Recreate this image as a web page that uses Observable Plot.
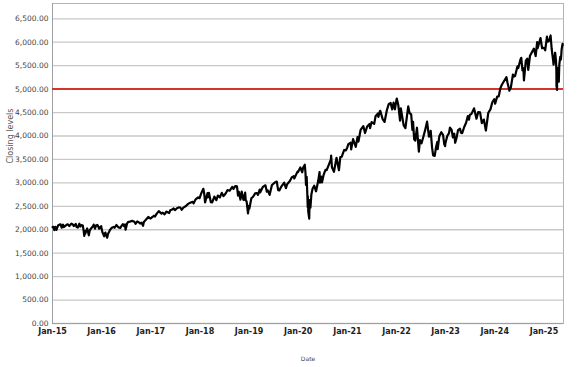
<!DOCTYPE html>
<html>
<head>
<meta charset="utf-8">
<script src="https://cdn.jsdelivr.net/npm/d3@7"></script>
<script src="https://cdn.jsdelivr.net/npm/@observablehq/plot@0.6"></script>
<style>
  html, body { margin: 0; padding: 0; background: #fff; }
  #chart svg { display: block; }
</style>
</head>
<body>
<div id="chart"></div>
<script>
// Approximate S&P 500 closing levels
const dates = [
  "2015-01-02","2015-01-08","2015-01-15","2015-01-22","2015-01-30","2015-02-06","2015-02-13","2015-02-25","2015-03-02","2015-03-10","2015-03-20","2015-03-26","2015-04-06","2015-04-15","2015-04-24","2015-05-06","2015-05-21","2015-06-01","2015-06-09","2015-06-23","2015-06-29","2015-07-08","2015-07-20","2015-07-27","2015-08-05","2015-08-14","2015-08-21","2015-08-25","2015-08-31","2015-09-01","2015-09-16","2015-09-28","2015-10-05","2015-10-16","2015-10-30","2015-11-03","2015-11-13","2015-11-20","2015-12-01","2015-12-08","2015-12-14","2015-12-29","2015-12-31",
  "2016-01-07","2016-01-11","2016-01-20","2016-01-22","2016-01-29","2016-02-05","2016-02-11","2016-02-19","2016-02-25","2016-03-04","2016-03-17","2016-03-31","2016-04-07","2016-04-20","2016-05-05","2016-05-19","2016-05-31","2016-06-08","2016-06-16","2016-06-23","2016-06-27","2016-07-08","2016-07-15","2016-07-29","2016-08-15","2016-08-31","2016-09-09","2016-09-22","2016-10-03","2016-10-13","2016-10-24","2016-11-04","2016-11-10","2016-11-25","2016-12-13","2016-12-30",
  "2017-01-13","2017-01-26","2017-01-31","2017-02-15","2017-03-01","2017-03-21","2017-03-31","2017-04-13","2017-04-26","2017-05-17","2017-05-25","2017-06-09","2017-06-19","2017-06-29","2017-07-14","2017-07-27","2017-08-08","2017-08-18","2017-08-31","2017-09-19","2017-10-05","2017-10-20","2017-11-08","2017-11-15","2017-11-30","2017-12-18","2017-12-29",
  "2018-01-12","2018-01-26","2018-02-02","2018-02-08","2018-02-26","2018-03-02","2018-03-09","2018-03-23","2018-04-02","2018-04-18","2018-05-03","2018-05-14","2018-05-29","2018-06-12","2018-06-25","2018-07-11","2018-07-25","2018-08-10","2018-08-29","2018-09-07","2018-09-20","2018-10-03","2018-10-11","2018-10-17","2018-10-29","2018-11-07","2018-11-20","2018-11-23","2018-12-03","2018-12-07","2018-12-14","2018-12-24","2018-12-31",
  "2019-01-03","2019-01-18","2019-01-31","2019-02-15","2019-02-28","2019-03-08","2019-03-21","2019-03-25","2019-04-12","2019-04-30","2019-05-03","2019-05-13","2019-05-20","2019-06-03","2019-06-20","2019-07-15","2019-07-26","2019-08-05","2019-08-14","2019-08-30","2019-09-19","2019-10-02","2019-10-11","2019-10-31","2019-11-15","2019-11-29","2019-12-03","2019-12-27","2019-12-31",
  "2020-01-17","2020-01-31","2020-02-07","2020-02-19","2020-02-24","2020-02-28","2020-03-04","2020-03-09","2020-03-12","2020-03-13","2020-03-16","2020-03-23","2020-03-26","2020-04-01","2020-04-08","2020-04-17","2020-04-29","2020-05-13","2020-05-29","2020-06-08","2020-06-11","2020-06-23","2020-06-26","2020-07-08","2020-07-22","2020-07-31","2020-08-14","2020-08-31","2020-09-02","2020-09-08","2020-09-23","2020-10-12","2020-10-30","2020-11-09","2020-11-20","2020-12-08","2020-12-21","2020-12-31",
  "2021-01-08","2021-01-25","2021-01-29","2021-02-12","2021-03-04","2021-03-17","2021-03-24","2021-04-09","2021-04-29","2021-05-12","2021-05-28","2021-06-14","2021-06-18","2021-06-30","2021-07-19","2021-07-29","2021-08-16","2021-08-19","2021-08-30","2021-09-02","2021-09-20","2021-10-04","2021-10-21","2021-11-04","2021-11-18","2021-11-30","2021-12-10","2021-12-20","2021-12-31",
  "2022-01-03","2022-01-14","2022-01-27","2022-02-02","2022-02-23","2022-03-08","2022-03-29","2022-04-08","2022-04-20","2022-04-29","2022-05-04","2022-05-12","2022-05-20","2022-06-02","2022-06-16","2022-06-24","2022-07-06","2022-07-21","2022-08-01","2022-08-16","2022-08-30","2022-09-12","2022-09-22","2022-09-30","2022-10-12","2022-10-21","2022-10-31","2022-11-03","2022-11-15","2022-11-30","2022-12-13","2022-12-22","2022-12-28","2022-12-30",
  "2023-01-13","2023-01-26","2023-02-02","2023-02-14","2023-02-24","2023-03-06","2023-03-13","2023-03-24","2023-04-03","2023-04-18","2023-04-25","2023-05-04","2023-05-19","2023-06-02","2023-06-15","2023-06-23","2023-06-30","2023-07-12","2023-07-31","2023-08-10","2023-08-18","2023-08-31","2023-09-14","2023-09-27","2023-10-12","2023-10-27","2023-11-14","2023-11-30","2023-12-14","2023-12-28",
  "2024-01-04","2024-01-19","2024-01-31","2024-02-12","2024-02-22","2024-03-07","2024-03-28","2024-04-04","2024-04-19","2024-04-30","2024-05-15","2024-05-23","2024-05-31","2024-06-18","2024-06-24","2024-07-10","2024-07-16","2024-07-25","2024-08-01","2024-08-05","2024-08-19","2024-08-30","2024-09-06","2024-09-19","2024-10-18","2024-10-31","2024-11-11","2024-11-15","2024-12-06","2024-12-18","2024-12-31",
  "2025-01-10","2025-01-23","2025-01-27","2025-02-07","2025-02-19","2025-02-27","2025-03-10","2025-03-13","2025-03-25","2025-03-31","2025-04-03","2025-04-04","2025-04-08","2025-04-09","2025-04-10","2025-04-21","2025-04-25","2025-05-02","2025-05-07","2025-05-12","2025-05-19","2025-05-20"
];
const closes = [
  2058,2062,1993,2063,1995,2055,2097,2114,2117,2044,2108,2057,2081,2107,2117,2080,2131,2111,2080,2124,2058,2047,2128,2068,2100,2092,1971,1868,1972,1914,2027,1882,1987,2033,2079,2109,2023,2089,2103,2064,2022,2078,2044,
  1944,1924,1859,1907,1940,1880,1829,1918,1952,2000,2041,2060,2042,2102,2051,2040,2097,2119,2077,2113,2001,2130,2162,2174,2190,2171,2128,2177,2161,2133,2151,2085,2167,2213,2272,2239,
  2275,2297,2279,2349,2396,2344,2363,2329,2387,2357,2415,2432,2453,2419,2459,2475,2474,2425,2472,2506,2552,2575,2594,2565,2648,2690,2674,
  2786,2873,2762,2581,2780,2691,2786,2588,2582,2708,2630,2730,2690,2787,2717,2774,2846,2833,2914,2872,2931,2925,2728,2809,2641,2814,2642,2633,2790,2633,2600,2351,2507,
  2448,2671,2704,2776,2784,2743,2855,2798,2907,2946,2946,2812,2840,2744,2954,3014,3026,2845,2840,2926,3006,2888,2970,3038,3120,3141,3093,3240,3231,
  3330,3226,3328,3386,3226,2954,3130,2747,2481,2711,2386,2237,2630,2470,2750,2875,2940,2820,3044,3232,3002,3131,3009,3169,3276,3271,3373,3500,3580,3332,3237,3535,3270,3550,3558,3702,3694,3756,
  3825,3855,3714,3934,3768,3974,3881,4129,4211,4063,4204,4255,4166,4298,4258,4419,4479,4405,4529,4537,4358,4300,4549,4680,4705,4567,4712,4568,4766,
  4797,4663,4326,4589,4225,4170,4632,4488,4459,4132,4300,3930,3901,4176,3667,3912,3845,3999,4119,4305,3986,4110,3757,3586,3577,3752,3872,3720,3992,4080,4020,3822,3783,3840,
  3999,4060,4179,4136,3970,4048,3855,3971,4124,4154,4071,4061,4192,4282,4425,4348,4450,4472,4589,4468,4370,4508,4505,4274,4350,4117,4496,4568,4720,4783,
  4688,4840,4846,5022,5087,5157,5254,5147,4967,5036,5308,5268,5278,5487,5448,5633,5667,5399,5446,5186,5608,5648,5408,5713,5864,5705,6001,5870,6090,5872,5882,
  5827,6118,6012,6026,6144,5861,5614,5522,5776,5612,5397,5074,4983,5457,5268,5158,5525,5687,5631,5844,5964,5940
];
const yearTickDates = ["2015-01-01","2016-01-01","2017-01-01","2018-01-01","2019-01-01","2020-01-01","2021-01-01","2022-01-01","2023-01-01","2024-01-01","2025-01-01"];
const yTickValues = [0,500,1000,1500,2000,2500,3000,3500,4000,4500,5000,5500,6000,6500];
const thresholdLevel = [5000];
const yTitle = "Closing levels";
const xTitle = "Date";

const data = dates.map((d, i) => ({date: new Date(d + "T00:00:00Z"), close: closes[i]}));
const xTicks = yearTickDates.map(d => new Date(d + "T00:00:00Z"));

const chart = Plot.plot({
  width: 577,
  height: 367,
  marginLeft: 52,
  marginRight: 14,
  marginTop: 3,
  marginBottom: 44,
  style: {fontFamily: "DejaVu Sans, Verdana, sans-serif", background: "#fff", color: "#333"},
  x: {type: "utc", domain: [new Date("2015-01-01T00:00:00Z"), new Date("2025-05-26T00:00:00Z")]},
  y: {domain: [0, 6826]},
  marks: [
    Plot.gridY(yTickValues, {stroke: "#c9c9c9", strokeOpacity: 1, strokeWidth: 1.3}),
    Plot.frame({stroke: "#b4b4b4", strokeWidth: 1}),
    Plot.ruleX([new Date("2015-01-01T00:00:00Z")], {stroke: "#a0a0a0", strokeWidth: 1}),
    Plot.ruleY([0], {stroke: "#a0a0a0", strokeWidth: 1}),
    Plot.ruleY(thresholdLevel, {stroke: "#d3352c", strokeWidth: 2}),
    Plot.lineY(data, {x: "date", y: "close", stroke: "#000", strokeWidth: 2.2, strokeLinejoin: "round"}),
    Plot.axisY(yTickValues, {tickSize: 0, tickPadding: 4, tickFormat: d3.format(",.2f"), fontSize: 7.5, fill: "#444", label: null}),
    Plot.axisX(xTicks, {tickSize: 0, tickPadding: 5, tickFormat: d3.utcFormat("%b-%y"), fontSize: 8, fontWeight: "bold", fill: "#222", label: null}),
    Plot.text([yTitle], {frameAnchor: "left", dx: -42, rotate: -90, fontSize: 8, fill: "#555"}),
    Plot.text([xTitle], {frameAnchor: "bottom", dy: 37, fontSize: 6, fill: "#444"})
  ]
});
document.getElementById("chart").appendChild(chart);
</script>
</body>
</html>
